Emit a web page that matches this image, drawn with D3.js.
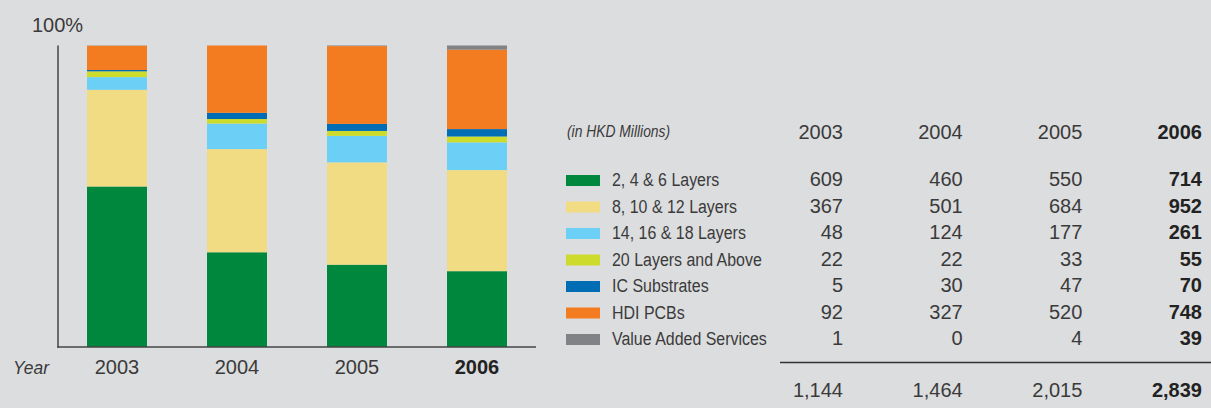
<!DOCTYPE html>
<html>
<head>
<meta charset="utf-8">
<script src="https://cdn.jsdelivr.net/npm/d3@7"></script>
<style>
    body { margin: 0; background: #dcdddf; }
    svg { display: block; }
    text { font-family: "Liberation Sans", Arial, sans-serif; fill: #3a3a3a; }
    .bold { font-weight: bold; fill: #222; }
</style>
</head>
<body>
<div id="chart"></div>
<script>

// Data (in HKD Millions)
var years = ["2003", "2004", "2005", "2006"];
var categories = [
    "2, 4 & 6 Layers",
    "8, 10 & 12 Layers",
    "14, 16 & 18 Layers",
    "20 Layers and Above",
    "IC Substrates",
    "HDI PCBs",
    "Value Added Services"
];
var layers_2_4_6 = [609, 460, 550, 714];
var layers_8_10_12 = [367, 501, 684, 952];
var layers_14_16_18 = [48, 124, 177, 261];
var layers_20_above = [22, 22, 33, 55];
var ic_substrates = [5, 30, 47, 70];
var hdi_pcbs = [92, 327, 520, 748];
var value_added = [1, 0, 4, 39];
var totals = [1144, 1464, 2015, 2839];

var colors = ["#00873e", "#f2dc83", "#6ccff5", "#cddc2c", "#006db5", "#f47c20", "#808285"];

var series = [layers_2_4_6, layers_8_10_12, layers_14_16_18, layers_20_above, ic_substrates, hdi_pcbs, value_added];

var width = 1211, height = 408;

// labels in the reference use a condensed face, squeeze the regular one
var condense = 0.84;

var svg = d3.select("#chart").append("svg")
    .attr("width", width)
    .attr("height", height);

// rows for the stack, one per year
var rows = years.map(function(y, i) {
    var r = { year: y };
    categories.forEach(function(c, j) { r[c] = series[j][i]; });
    return r;
});

var stack = d3.stack()
    .keys(categories)
    .offset(d3.stackOffsetExpand);

var stacked = stack(rows);

var x = d3.scaleBand()
    .domain(years)
    .range([57, 537])
    .paddingInner(0.5)
    .paddingOuter(0.25);

var y = d3.scaleLinear()
    .domain([0, 1])
    .range([347, 45.5]);

svg.append("g")
    .selectAll("g")
    .data(stacked)
    .enter().append("g")
        .attr("fill", function(d, i) { return colors[i]; })
        .selectAll("rect")
        .data(function(d) { return d; })
        .enter().append("rect")
            .attr("x", function(d) { return x(d.data.year); })
            .attr("width", x.bandwidth())
            .attr("y", function(d) { return y(d[1]); })
            .attr("height", function(d) { return y(d[0]) - y(d[1]); });

// axes: plain lines, no ticks
svg.append("line")
    .attr("x1", 58).attr("x2", 58)
    .attr("y1", y(1)).attr("y2", y(0) + 0.75)
    .attr("stroke", "#444").attr("stroke-width", 1.5);
svg.append("line")
    .attr("x1", 57.25).attr("x2", 536)
    .attr("y1", y(0)).attr("y2", y(0))
    .attr("stroke", "#444").attr("stroke-width", 1.5);

svg.append("text")
    .attr("x", 32).attr("y", 32)
    .style("font-size", "20px")
    .text("100%");

svg.append("text")
    .attr("transform", "translate(13,374) scale(0.92,1)")
    .style("font-size", "19px")
    .style("font-style", "italic")
    .text("Year");

svg.append("g")
    .selectAll("text")
    .data(years)
    .enter().append("text")
        .attr("x", function(d) { return x(d) + x.bandwidth() / 2; })
        .attr("y", 374)
        .attr("text-anchor", "middle")
        .classed("bold", function(d, i) { return i == years.length - 1; })
        .style("font-size", "20px")
        .text(function(d) { return d; });

// table
var col_x = d3.scalePoint()
    .domain(years)
    .range([843, 1202]);

var row_y = d3.scaleLinear()
    .domain([0, categories.length - 1])
    .range([186, 345]);

var fmt = d3.format(",");

svg.append("text")
    .attr("transform", "translate(567,137) scale(" + condense + ",1)")
    .style("font-size", "16.5px")
    .style("font-style", "italic")
    .text("(in HKD Millions)");

svg.append("g")
    .selectAll("text")
    .data(years)
    .enter().append("text")
        .attr("x", function(d) { return col_x(d); })
        .attr("y", 139)
        .attr("text-anchor", "end")
        .classed("bold", function(d, i) { return i == years.length - 1; })
        .style("font-size", "20px")
        .text(function(d) { return d; });

var row = svg.append("g")
    .selectAll("g")
    .data(categories)
    .enter().append("g")
        .attr("transform", function(d, i) { return "translate(0," + row_y(i) + ")"; });

row.append("rect")
    .attr("x", 566).attr("y", -11)
    .attr("width", 34).attr("height", 11)
    .attr("fill", function(d, i) { return colors[i]; });

row.append("text")
    .attr("transform", "translate(612,0) scale(" + condense + ",1)")
    .style("font-size", "19px")
    .text(function(d) { return d; });

row.selectAll("text.val")
    .data(function(d, i) { return series[i]; })
    .enter().append("text")
        .attr("class", "val")
        .attr("x", function(d, i) { return col_x(years[i]); })
        .attr("text-anchor", "end")
        .classed("bold", function(d, i) { return i == years.length - 1; })
        .style("font-size", "20px")
        .text(function(d) { return fmt(d); });

svg.append("line")
    .attr("x1", 780).attr("x2", width)
    .attr("y1", 362.5).attr("y2", 362.5)
    .attr("stroke", "#333").attr("stroke-width", 1.5);

svg.append("g")
    .selectAll("text")
    .data(totals)
    .enter().append("text")
        .attr("x", function(d, i) { return col_x(years[i]); })
        .attr("y", 397)
        .attr("text-anchor", "end")
        .classed("bold", function(d, i) { return i == years.length - 1; })
        .style("font-size", "20px")
        .text(function(d) { return fmt(d); });

</script>
</body>
</html>
